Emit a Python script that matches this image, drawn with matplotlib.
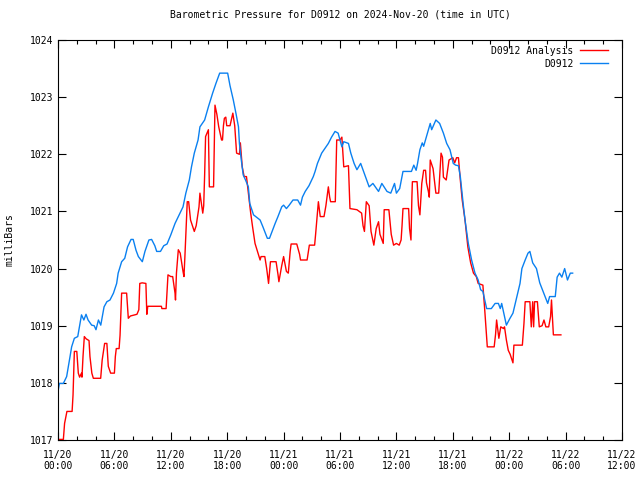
import matplotlib
matplotlib.use("Agg")
import matplotlib.pyplot as plt

# hours since 2024-11-20 00:00 UTC, pressure in mb
analysis_hours = [0.0, 0.57, 0.7, 0.95, 1.5, 1.6, 1.7, 1.74, 2.0, 2.16, 2.3, 2.5, 2.55, 2.66, 2.77, 2.8, 3.0, 3.3, 3.4, 3.6, 3.76, 4.54, 4.7, 4.96, 5.2, 5.35, 5.6, 6.0, 6.1, 6.2, 6.5, 6.6, 6.77, 7.3, 7.48, 7.7, 8.4, 8.6, 8.7, 8.95, 9.35, 9.45, 9.55, 11.0, 11.05, 11.5, 11.6, 11.7, 12.0, 12.2, 12.45, 12.5, 12.6, 12.8, 13.0, 13.3, 13.4, 13.5, 13.75, 13.9, 14.1, 14.3, 14.5, 14.7, 15.0, 15.1, 15.2, 15.4, 15.5, 15.6, 15.7, 16.0, 16.1, 16.55, 16.6, 16.7, 16.9, 17.1, 17.4, 17.5, 17.6, 17.7, 17.85, 17.95, 18.3, 18.6, 18.8, 19.0, 19.3, 19.4, 19.5, 19.6, 19.8, 20.05, 20.25, 20.5, 20.7, 20.96, 21.5, 21.6, 22.0, 22.2, 22.4, 22.6, 23.2, 23.4, 23.5, 23.8, 24.0, 24.3, 24.5, 24.7, 24.8, 25.4, 25.7, 25.8, 26.5, 26.74, 27.3, 27.4, 27.7, 27.9, 28.3, 28.5, 28.76, 28.9, 29.0, 29.5, 29.65, 30.0, 30.2, 30.35, 30.4, 30.9, 31.06, 31.8, 32.3, 32.45, 32.6, 32.8, 33.1, 33.3, 33.6, 33.85, 34.1, 34.25, 34.6, 34.7, 35.2, 35.45, 35.7, 36.0, 36.3, 36.5, 36.6, 36.7, 37.3, 37.4, 37.55, 37.65, 37.7, 38.2, 38.35, 38.5, 38.7, 38.9, 39.1, 39.2, 39.4, 39.5, 39.6, 39.9, 40.2, 40.5, 40.75, 40.9, 41.0, 41.3, 41.6, 42.0, 42.2, 42.4, 42.6, 42.8, 43.0, 43.3, 43.6, 43.9, 44.2, 44.5, 44.7, 45.2, 45.4, 45.67, 46.4, 46.55, 46.66, 46.9, 47.1, 47.4, 47.5, 47.7, 47.9, 48.1, 48.3, 48.4, 48.5, 49.4, 49.57, 49.7, 50.2, 50.35, 50.5, 50.6, 50.7, 51.0, 51.2, 51.5, 51.7, 51.9, 52.2, 52.4, 52.5, 52.7, 53.5]
analysis_mb = [1017.01, 1017.01, 1017.29, 1017.5, 1017.5, 1017.79, 1018.31, 1018.55, 1018.55, 1018.17, 1018.1, 1018.17, 1018.1, 1018.46, 1018.75, 1018.81, 1018.77, 1018.74, 1018.46, 1018.17, 1018.08, 1018.08, 1018.4, 1018.69, 1018.69, 1018.29, 1018.17, 1018.17, 1018.46, 1018.6, 1018.6, 1018.83, 1019.57, 1019.57, 1019.13, 1019.17, 1019.2, 1019.28, 1019.74, 1019.75, 1019.74, 1019.2, 1019.34, 1019.34, 1019.3, 1019.3, 1019.6, 1019.89, 1019.86, 1019.86, 1019.57, 1019.45, 1019.92, 1020.33, 1020.27, 1019.95, 1019.86, 1020.21, 1021.17, 1021.17, 1020.85, 1020.75, 1020.65, 1020.75, 1021.08, 1021.32, 1021.2, 1020.97, 1021.1, 1021.64, 1022.31, 1022.43, 1021.43, 1021.43, 1021.9, 1022.86, 1022.7, 1022.48, 1022.25, 1022.25, 1022.5, 1022.63, 1022.65, 1022.5, 1022.5, 1022.72, 1022.5, 1022.02, 1022.0, 1022.2, 1022.0, 1021.78, 1021.61, 1021.61, 1021.32, 1020.97, 1020.73, 1020.44, 1020.15, 1020.21, 1020.21, 1020.0, 1019.74, 1020.12, 1020.12, 1019.9, 1019.77, 1020.05, 1020.21, 1019.95, 1019.92, 1020.3, 1020.43, 1020.43, 1020.25, 1020.15, 1020.15, 1020.41, 1020.41, 1020.59, 1021.17, 1020.91, 1020.91, 1021.1, 1021.43, 1021.25, 1021.17, 1021.17, 1022.25, 1022.25, 1022.3, 1021.9, 1021.78, 1021.8, 1021.05, 1021.03, 1020.97, 1020.75, 1020.65, 1021.17, 1021.1, 1020.65, 1020.41, 1020.7, 1020.82, 1020.6, 1020.44, 1021.03, 1021.03, 1020.6, 1020.41, 1020.44, 1020.41, 1020.5, 1020.75, 1021.05, 1021.05, 1020.7, 1020.5, 1021.26, 1021.52, 1021.52, 1021.1, 1020.94, 1021.49, 1021.72, 1021.72, 1021.5, 1021.35, 1021.25, 1021.9, 1021.75, 1021.32, 1021.32, 1022.02, 1021.95, 1021.6, 1021.55, 1021.9, 1021.94, 1021.85, 1021.94, 1021.94, 1021.55, 1021.2, 1020.85, 1020.38, 1020.1, 1019.92, 1019.86, 1019.74, 1019.71, 1019.27, 1018.63, 1018.63, 1018.85, 1019.1, 1018.78, 1018.98, 1018.95, 1018.98, 1018.75, 1018.57, 1018.5, 1018.4, 1018.35, 1018.66, 1018.66, 1019.04, 1019.42, 1019.42, 1018.98, 1019.42, 1018.98, 1019.42, 1019.42, 1018.98, 1019.0, 1019.1, 1018.98, 1018.98, 1019.16, 1019.45, 1018.84, 1018.84]

station_hours = [0.0, 0.15, 0.57, 0.92, 1.1, 1.28, 1.45, 1.74, 2.1, 2.5, 2.75, 2.98, 3.2, 3.58, 3.85, 4.04, 4.3, 4.55, 4.7, 4.9, 5.2, 5.53, 5.9, 6.24, 6.4, 6.77, 7.1, 7.4, 7.77, 8.0, 8.3, 8.55, 8.97, 9.25, 9.67, 9.96, 10.3, 10.5, 10.9, 11.25, 11.6, 12.0, 12.45, 12.8, 13.3, 13.6, 13.97, 14.2, 14.5, 14.9, 15.1, 15.6, 16.0, 16.45, 16.8, 17.2, 18.05, 18.3, 18.65, 18.95, 19.2, 19.3, 19.5, 19.7, 19.95, 20.25, 20.4, 20.8, 21.5, 21.8, 22.27, 22.5, 23.1, 23.4, 23.8, 24.0, 24.3, 24.6, 25.0, 25.5, 25.8, 26.0, 26.3, 26.7, 27.16, 27.35, 27.6, 28.05, 28.76, 29.1, 29.47, 29.8, 30.2, 30.4, 30.9, 31.15, 31.5, 31.8, 32.2, 32.7, 33.1, 33.5, 34.1, 34.45, 35.0, 35.4, 35.8, 36.0, 36.35, 36.7, 37.6, 37.85, 38.1, 38.25, 38.5, 38.75, 38.9, 39.2, 39.6, 39.75, 40.2, 40.6, 41.0, 41.35, 41.7, 42.05, 42.3, 42.6, 42.8, 43.1, 43.3, 43.65, 44.0, 44.36, 44.7, 44.96, 45.2, 45.6, 46.1, 46.5, 46.85, 47.05, 47.2, 47.4, 47.7, 48.05, 48.4, 48.8, 49.15, 49.35, 49.7, 50.0, 50.2, 50.5, 50.9, 51.25, 51.6, 52.1, 52.3, 52.9, 53.1, 53.35, 53.6, 53.9, 54.2, 54.5, 54.75]
station_mb = [1017.85, 1017.99, 1017.99, 1018.11, 1018.28, 1018.46, 1018.63, 1018.78, 1018.81, 1019.19, 1019.1, 1019.2, 1019.1, 1019.01, 1019.0, 1018.93, 1019.1, 1019.01, 1019.15, 1019.33, 1019.42, 1019.45, 1019.57, 1019.74, 1019.92, 1020.12, 1020.18, 1020.38, 1020.51, 1020.51, 1020.32, 1020.21, 1020.12, 1020.3, 1020.5, 1020.51, 1020.4, 1020.3, 1020.3, 1020.4, 1020.43, 1020.59, 1020.79, 1020.91, 1021.08, 1021.32, 1021.55, 1021.78, 1022.02, 1022.25, 1022.48, 1022.6, 1022.83, 1023.07, 1023.24, 1023.42, 1023.42, 1023.2, 1022.95, 1022.7, 1022.48, 1022.19, 1021.9, 1021.64, 1021.55, 1021.43, 1021.14, 1020.94, 1020.85, 1020.73, 1020.53, 1020.53, 1020.79, 1020.91, 1021.08, 1021.11, 1021.05, 1021.11, 1021.2, 1021.2, 1021.11, 1021.25, 1021.35, 1021.45, 1021.61, 1021.7, 1021.84, 1022.02, 1022.19, 1022.3, 1022.4, 1022.37, 1022.13, 1022.22, 1022.19, 1022.02, 1021.84, 1021.73, 1021.84, 1021.61, 1021.43, 1021.49, 1021.35, 1021.49, 1021.35, 1021.32, 1021.49, 1021.32, 1021.4, 1021.7, 1021.7, 1021.81, 1021.72, 1021.84, 1022.08, 1022.2, 1022.14, 1022.31, 1022.54, 1022.43, 1022.6, 1022.54, 1022.37, 1022.19, 1022.08, 1021.84, 1021.81, 1021.8, 1021.61, 1021.14, 1020.85, 1020.44, 1020.15, 1019.92, 1019.8, 1019.63, 1019.6, 1019.3, 1019.3, 1019.39, 1019.39, 1019.3, 1019.39, 1019.24, 1019.01, 1019.12, 1019.22, 1019.5, 1019.74, 1020.0, 1020.15, 1020.27, 1020.3, 1020.1, 1020.0, 1019.75, 1019.6, 1019.39, 1019.51, 1019.51, 1019.85, 1019.92, 1019.85, 1020.0, 1019.8, 1019.92, 1019.92]

tick_hours = [0, 6, 12, 18, 24, 30, 36, 42, 48, 54, 60]
tick_labels = ["11/20\n00:00", "11/20\n06:00", "11/20\n12:00", "11/20\n18:00",
               "11/21\n00:00", "11/21\n06:00", "11/21\n12:00", "11/21\n18:00",
               "11/22\n00:00", "11/22\n06:00", "11/22\n12:00"]
y_ticks = [1017, 1018, 1019, 1020, 1021, 1022, 1023, 1024]

plt.rcParams['font.family'] = ['DejaVu Sans Mono']
plt.rcParams['font.size'] = 7

fig = plt.figure(figsize=(6.4, 4.8), dpi=100)
ax = fig.add_axes([58 / 640, 40 / 480, 564 / 640, 400 / 480])

ax.plot(analysis_hours, analysis_mb, color="#ff0000", lw=1.0, label="D0912 Analysis")
ax.plot(station_hours, station_mb, color="#0a80f0", lw=1.0, label="D0912")

ax.set_xlim(0, 60)
ax.set_ylim(1017, 1024)
ax.set_xticks(tick_hours)
ax.set_xticklabels(tick_labels)
ax.set_xticks(range(0, 61, 2), minor=True)
ax.set_yticks(y_ticks)
ax.tick_params(which="both", direction="in", top=True, right=True, width=0.8)
ax.tick_params(which="major", length=6)
ax.tick_params(axis="x", which="major", pad=7)
ax.tick_params(which="minor", length=3)
for s in ax.spines.values():
    s.set_linewidth(0.8)

ax.set_title("Barometric Pressure for D0912 on 2024-Nov-20 (time in UTC)", fontsize=7, pad=16)
ax.set_ylabel("milliBars", labelpad=11)

ax.legend(loc="upper right", bbox_to_anchor=(0.985, 1.0), frameon=False,
          markerfirst=False, handlelength=2.8, handletextpad=0.7,
          borderaxespad=0.2, labelspacing=0.3)

fig.savefig("out.png", dpi=100)
